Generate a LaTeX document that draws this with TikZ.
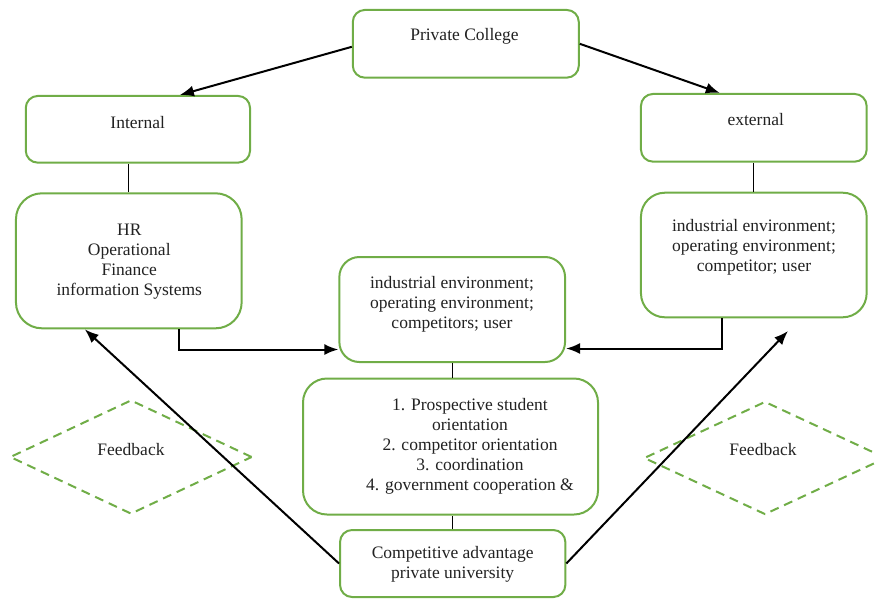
\documentclass[tikz,border=0pt]{standalone}
\usepackage{fontspec}
\setmainfont{Liberation Serif}
\usetikzlibrary{arrows.meta,shapes.geometric,calc}
\definecolor{boxgreen}{HTML}{70AD47}
\definecolor{txtgrey}{HTML}{222222}
\begin{document}
\begin{tikzpicture}[x=1pt,y=-1pt,
  gbox/.style={draw=boxgreen,line width=2pt,fill=white,inner sep=0pt},
  txt/.style={text=txtgrey,align=center,inner sep=0pt,font=\fontsize{17.5}{20}\selectfont},
  fb/.style={draw=boxgreen,line width=2pt,dash pattern=on 9pt off 6pt,diamond,inner sep=0pt},
  arr/.style={draw=black,line width=2pt,-{Latex[length=14pt,width=11pt]}},
  plain/.style={draw=black,line width=1.2pt}]
\useasboundingbox (0,0) rectangle (875,598);
% feedback diamonds
\node[fb,minimum width=242pt,minimum height=114pt] (fbl) at (131,457) {};
\node[fb,minimum width=242pt,minimum height=113pt] (fbr) at (765,458) {};
\node[txt] (fbltxt) at (131,450) {Feedback};
\node[txt] (fbrtxt) at (763,450) {Feedback};
% boxes
\node[gbox,rounded corners=12pt,minimum width=226pt,minimum height=67.7pt] (pc) at (465.8,43.8) {};
\node[gbox,rounded corners=12pt,minimum width=224.3pt,minimum height=66.7pt] (int) at (137.9,129.3) {};
\node[gbox,rounded corners=12pt,minimum width=225.7pt,minimum height=67.7pt] (ext) at (753.8,127.8) {};
\node[gbox,rounded corners=26pt,minimum width=225.7pt,minimum height=135pt] (hr) at (128.8,260.8) {};
\node[gbox,rounded corners=24pt,minimum width=225.7pt,minimum height=124.6pt] (renv) at (753.8,255) {};
\node[gbox,rounded corners=20pt,minimum width=225.7pt,minimum height=105pt] (cenv) at (452.2,309.5) {};
\node[gbox,rounded corners=24pt,minimum width=295pt,minimum height=136pt] (num) at (450.5,446.5) {};
\node[gbox,rounded corners=12pt,minimum width=225.3pt,minimum height=67pt] (comp) at (452.7,563.5) {};
% texts
\node[txt] (pctxt) at (464.5,36) {Private College};
\node[txt] (inttxt) at (137.7,122.5) {Internal};
\node[txt] (exttxt) at (755.7,120) {external};
\node[txt] (hrtxt) at (129.3,262) {HR\\Operational\\Finance\\information Systems};
\node[txt] (renvtxt) at (754,247.5) {industrial environment;\\operating environment;\\competitor; user};
\node[txt] (cenvtxt) at (452,304) {industrial environment;\\operating environment;\\competitors; user};
\node[txt] (numtxt) at (470,446) {1. Prospective student\\orientation\\2. competitor orientation\\3. coordination\\4. government cooperation \&};
\node[txt] (comptxt) at (452.7,564.5) {Competitive advantage\\private university};
% connectors
\coordinate (rtip) at (788,331);
\draw[arr] ([yshift=-3pt]pc.west) -- ([xshift=42pt]int.north);
\draw[arr] (pc.east) -- ([xshift=-34pt]ext.north);
\draw[plain] (hr.north) -- (hr.north |- int.south);
\draw[plain] (renv.north) -- (renv.north |- ext.south);
\draw[arr] ([xshift=50pt]hr.south) |- ([yshift=-40pt]cenv.west);
\draw[arr] ([xshift=-32pt]renv.south) |- ([yshift=-39pt]cenv.east);
\draw[plain] (cenv.south) -- (cenv.south |- num.north);
\draw[plain] (comp.north) -- (comp.north |- num.south);
\draw[arr] (comp.west) -- ([xshift=-44pt]hr.south);
\draw[arr] (comp.east) -- (rtip);
\end{tikzpicture}
\end{document}
